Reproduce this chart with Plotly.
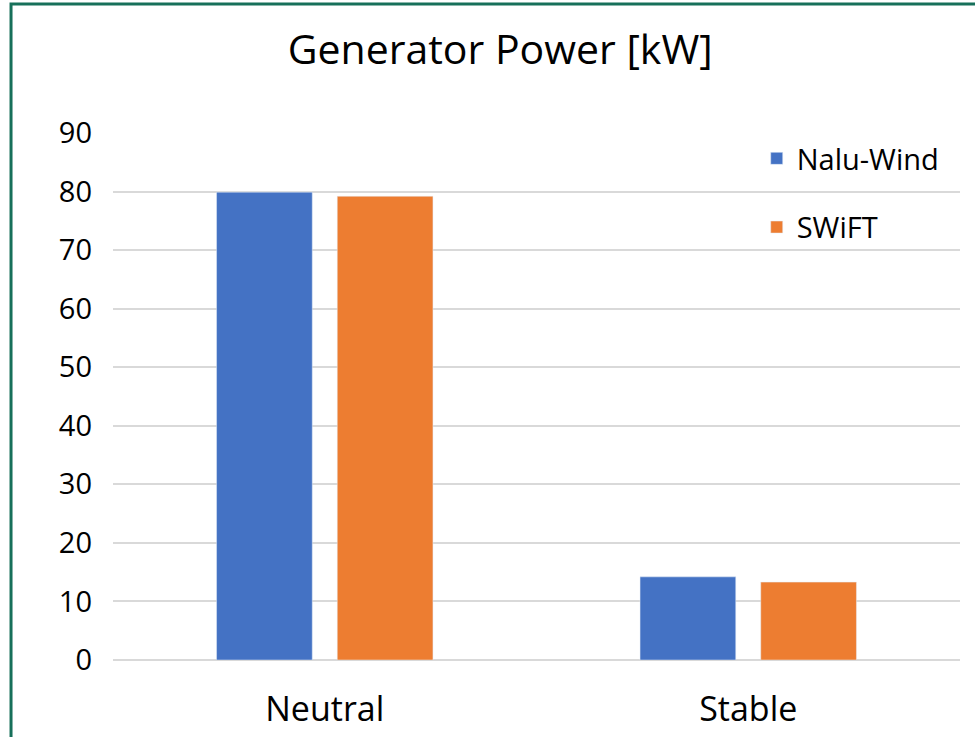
import plotly.graph_objects as go

cases = ["Neutral", "Stable"]
nalu_wind = [79.9, 14.2]
swift = [79.2, 13.3]

font = "Open Sans"

fig = go.Figure()
fig.add_trace(go.Bar(x=cases, y=nalu_wind, name="Nalu-Wind",
                     marker_color="#4472c4", legendgroup="a"))
fig.add_trace(go.Bar(x=cases, y=swift, name="SWiFT",
                     marker_color="#ed7d31", legendgroup="b"))

fig.update_layout(
    width=975, height=737,
    margin=dict(l=113, r=15, t=133, b=77),
    paper_bgcolor="white", plot_bgcolor="white",
    font=dict(family=font, color="black"),
    title=dict(text="Generator Power [kW]", font=dict(size=41),
               x=0.513, xref="container", y=0.932, yref="container",
               xanchor="center", yanchor="middle", automargin=False),
    barmode="group", bargap=0.43, bargroupgap=0.207,
    legend=dict(x=0.76, y=1.0, xanchor="left", yanchor="top",
                font=dict(size=29), tracegroupgap=28,
                bgcolor="rgba(0,0,0,0)"),
    showlegend=True,
)
fig.update_yaxes(range=[0, 90], dtick=10, showgrid=True, gridcolor="#d9d9d9",
                 gridwidth=2, zeroline=True, zerolinecolor="#d9d9d9",
                 zerolinewidth=2, tickfont=dict(size=29), ticklabelstandoff=20,
                 automargin=False)
fig.update_xaxes(showline=False, tickfont=dict(size=34), ticklabelstandoff=26,
                 automargin=False)

# green frame around chart (top and left visible)
fig.add_shape(type="rect", xref="paper", yref="paper",
              x0=-0.1204, x1=1.2, y0=-0.3, y1=1.2448,
              line=dict(color="#17705a", width=3), layer="above")

# drop the default body margin so the figure sits at the page corner
fig.write_html("out.html", config={"displayModeBar": False},
               post_script="document.body.style.margin='0';")
